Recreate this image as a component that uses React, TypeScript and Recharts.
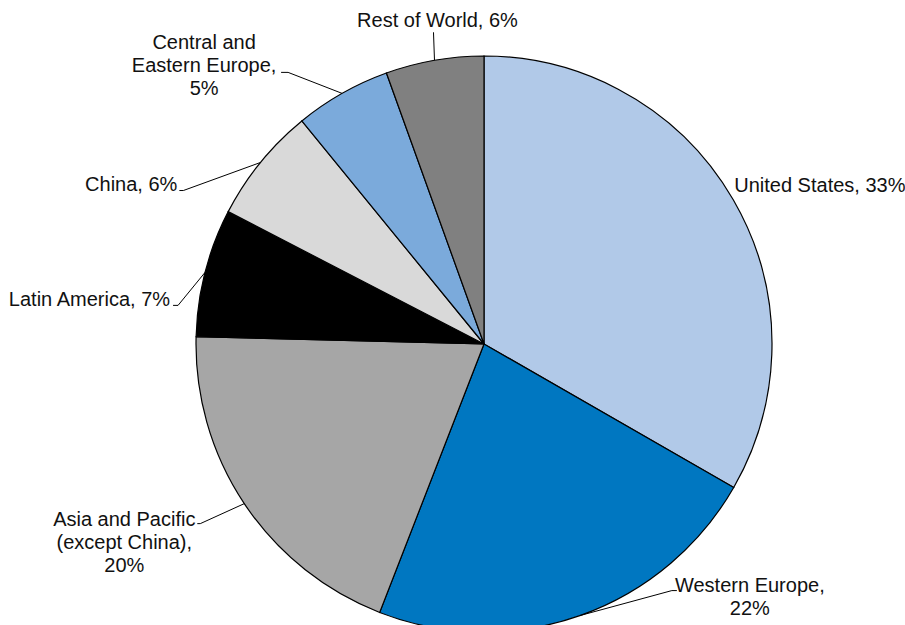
import React from 'react';
import { PieChart, Pie, Cell } from 'recharts';

// slices clockwise from 12 o'clock
const regions = [
    ['United States, 33%'],
    ['Western Europe,', '22%'],
    ['Asia and Pacific', '(except China),', '20%'],
    ['Latin America, 7%'],
    ['China, 6%'],
    ['Central and', 'Eastern Europe,', '5%'],
    ['Rest of World, 6%'],
];
const shares = [33.3, 22.6, 19.5, 7.2, 6.5, 5.4, 5.5];

const COLORS = ['#B1C9E8', '#0077C1', '#A6A6A6', '#000000', '#D9D9D9', '#7BAADB', '#808080'];

// label placement relative to the slice edge point at its mid angle
// elbow: where the leader line bends, end: end of the short horizontal, text: first baseline
const LABEL_LAYOUT = [
    { elbow: null, end: null, text: [1, -8], anchor: 'start' },
    { elbow: [92, -25], end: [97, -25], text: [170, -24], anchor: 'middle' },
    { elbow: [-44, 20], end: [-47, 20], text: [-120, 22], anchor: 'middle' },
    { elbow: [-27, 33], end: [-32, 33], text: [-35, 34], anchor: 'end' },
    { elbow: [-77, 28], end: [-81, 28], text: [-83, 28], anchor: 'end' },
    { elbow: [-54, -21], end: [-61, -21], text: [-138, -44], anchor: 'middle' },
    { elbow: [-1, -28], end: [-1, -28], text: [3, -33], anchor: 'middle' },
] as const;

const RAD = Math.PI / 180;
const LINE_HEIGHT = 23;

const data = regions.map((lines, i) => ({ name: lines.join(' '), value: shares[i] }));

function renderLabel(props: any) {
    const { cx, cy, midAngle, outerRadius, index } = props;
    const ex = cx + outerRadius * Math.cos(-midAngle * RAD);
    const ey = cy + outerRadius * Math.sin(-midAngle * RAD);
    const layout = LABEL_LAYOUT[index];
    const lines = regions[index];
    const tx = ex + layout.text[0];
    const ty = ey + layout.text[1];
    return (
        <g key={`label-${index}`}>
            {layout.elbow && layout.end && (
                <polyline
                    points={`${ex},${ey} ${ex + layout.elbow[0]},${ey + layout.elbow[1]} ${ex + layout.end[0]},${ey + layout.end[1]}`}
                    fill="none"
                    stroke="#000"
                    strokeWidth={1}
                />
            )}
            <text
                x={tx}
                y={ty}
                textAnchor={layout.anchor}
                fill="#111"
                fontSize={20}
                fontFamily="'Liberation Sans', Arial, sans-serif"
            >
                {lines.map((line, li) => (
                    <tspan key={li} x={tx} dy={li === 0 ? 0 : LINE_HEIGHT}>
                        {line}
                    </tspan>
                ))}
            </text>
        </g>
    );
}

export default function App() {
    return (
        <div style={{ position: 'absolute', left: 0, top: 0, width: 905, height: 625, overflow: 'hidden', background: '#fff' }}>
            <PieChart width={905} height={625} margin={{ top: 0, right: 0, bottom: 0, left: 0 }}>
                <Pie
                    data={data}
                    dataKey="value"
                    cx={484}
                    cy={344}
                    outerRadius={288}
                    startAngle={90}
                    endAngle={-270}
                    paddingAngle={0}
                    stroke="#000"
                    strokeWidth={1.2}
                    label={renderLabel}
                    labelLine={false}
                    isAnimationActive={false}
                >
                    {data.map((entry, index) => (
                        <Cell key={`cell-${index}`} fill={COLORS[index]} />
                    ))}
                </Pie>
            </PieChart>
        </div>
    );
}
